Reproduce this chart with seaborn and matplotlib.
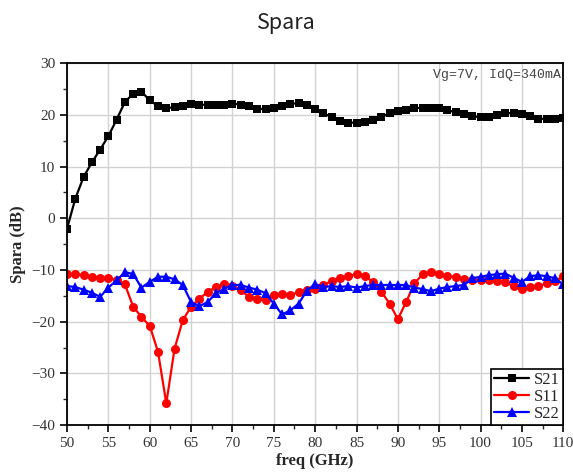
import numpy as np
import pandas as pd
import matplotlib
matplotlib.use("Agg")
import matplotlib.pyplot as plt
import seaborn as sns

# --- data (1 GHz step) ---
freq = np.arange(50, 111)

s21 = [-2.0, 3.8, 8.0, 10.8, 13.3, 15.9, 19.1, 22.5, 24.1, 24.5,
       22.8, 21.7, 21.3, 21.5, 21.8, 22.1, 22.0, 21.9, 22.0, 22.0,
       22.2, 22.0, 21.7, 21.2, 21.1, 21.4, 21.8, 22.1, 22.3, 22.0,
       21.2, 20.3, 19.6, 18.8, 18.5, 18.5, 18.7, 19.1, 19.6, 20.3,
       20.7, 21.0, 21.3, 21.4, 21.4, 21.3, 20.9, 20.5, 20.1, 19.8,
       19.5, 19.6, 20.0, 20.4, 20.3, 20.1, 19.8, 19.3, 19.2, 19.3,
       19.4]

s11 = [-10.7, -10.8, -11.0, -11.3, -11.5, -11.5, -12.0, -12.8, -17.1, -19.1,
       -20.8, -25.8, -35.8, -25.2, -19.7, -17.1, -15.6, -14.2, -13.3, -12.8,
       -13.1, -13.9, -15.2, -15.6, -15.8, -14.9, -14.7, -14.9, -14.2, -13.8,
       -13.6, -12.9, -12.1, -11.6, -11.2, -10.8, -11.2, -12.3, -14.2, -16.5,
       -19.5, -16.2, -12.6, -10.8, -10.4, -10.8, -11.2, -11.3, -11.8, -11.9,
       -11.9, -12.0, -12.2, -12.4, -13.1, -13.6, -13.3, -13.1, -12.6, -12.2,
       -11.2]

s22 = [-13.1, -13.3, -13.8, -14.4, -15.2, -13.4, -12.0, -10.4, -10.8, -13.4,
       -12.3, -11.3, -11.3, -11.8, -12.9, -16.2, -17.0, -16.2, -14.5, -13.6,
       -12.9, -12.9, -13.4, -13.8, -14.5, -16.5, -18.6, -17.8, -16.5, -14.0,
       -12.7, -13.3, -13.1, -13.3, -13.1, -13.4, -13.1, -12.9, -12.9, -12.9,
       -12.9, -12.9, -13.4, -13.7, -14.1, -13.6, -13.3, -13.1, -12.9, -11.6,
       -11.3, -11.0, -10.8, -10.7, -11.5, -12.3, -11.2, -11.0, -11.2, -11.6,
       -12.8]

series_names = ["S21", "S11", "S22"]
series_colors = ["black", "red", "blue"]
series_markers = ["s", "o", "^"]

df = pd.DataFrame({"freq": freq, "S21": s21, "S11": s11, "S22": s22})
long_df = df.melt(id_vars="freq", var_name="param", value_name="dB")

sns.set_theme(style="ticks")
plt.rcParams["font.family"] = ["Liberation Serif", "DejaVu Serif"]

fig = plt.figure(figsize=(5.73, 4.75), dpi=100)
ax = fig.add_axes([0.117, 0.105, 0.866, 0.762])

for name, col, mk in zip(series_names, series_colors, series_markers):
    sub = long_df[long_df["param"] == name]
    sns.lineplot(data=sub, x="freq", y="dB", color=col, marker=mk,
                 markersize=6.5 if mk != "s" else 5.8, markeredgewidth=0,
                 linewidth=1.6, label=name, ax=ax)

ax.set_xlim(50, 110)
ax.set_ylim(-40, 30)
ax.set_xticks(range(50, 111, 5))
ax.set_yticks(range(-40, 31, 10))
ax.set_xticks(np.arange(52.5, 110, 5), minor=True)
ax.set_yticks(range(-35, 30, 10), minor=True)
ax.grid(True, which="major", color="#d2d2d2", linewidth=1.0)
ax.tick_params(which="major", direction="out", length=5, width=1.2,
               labelsize=11, colors="black", labelcolor="#333333")
ax.tick_params(which="minor", direction="out", length=3, width=1.0)
for sp in ax.spines.values():
    sp.set_color("black")
    sp.set_linewidth(1.3)

ax.set_xlabel("freq (GHz)", fontsize=12, fontweight="bold", labelpad=2)
ax.set_ylabel("Spara (dB)", fontsize=12, fontweight="bold", labelpad=4)

ax.text(0.995, 0.985, "Vg=7V, IdQ=340mA", transform=ax.transAxes,
        ha="right", va="top", fontsize=9.5, color="#444444",
        family="Liberation Mono")

leg = ax.legend(loc="lower right", frameon=True, fancybox=False,
                fontsize=12, handlelength=2.1, borderpad=0.2,
                labelspacing=0.05, borderaxespad=0.0, handletextpad=0.3)
leg.get_frame().set_edgecolor("black")
leg.get_frame().set_linewidth(1.2)
leg.get_frame().set_alpha(1)

fig.suptitle("Spara", y=0.975, fontsize=15.5, fontweight="light",
             family=["Noto Sans CJK SC", "DejaVu Sans"], color="#222222")

fig.savefig("out.png", dpi=100)
